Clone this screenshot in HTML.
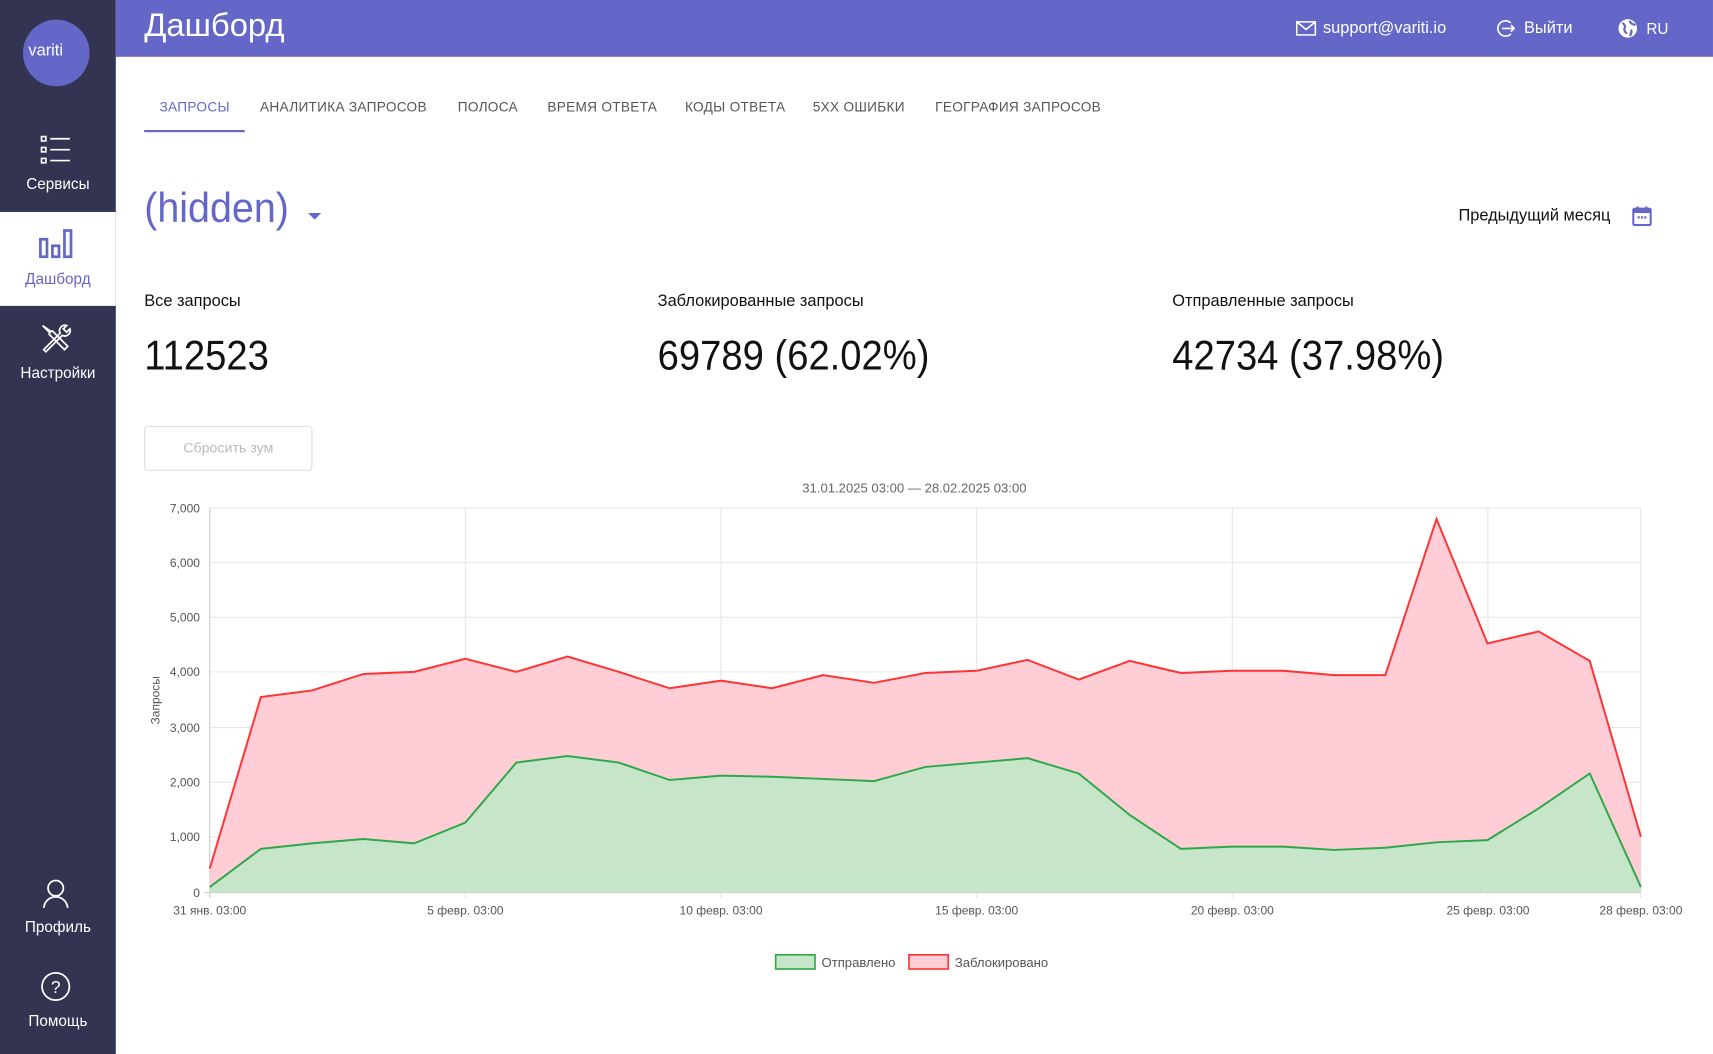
<!DOCTYPE html>
<html><head><meta charset="utf-8"><style>
html,body{margin:0;padding:0;width:1713px;height:1054px;overflow:hidden;background:#fff;}
#w{position:absolute;left:0;top:0;width:1568px;height:965px;transform:scale(1.09247);transform-origin:0 0;font-family:"Liberation Sans","DejaVu Sans",sans-serif;}
.a{position:absolute;white-space:nowrap;}
#side{position:absolute;left:0;top:0;width:106px;height:965px;background:#333352;}
#hdr{position:absolute;left:106px;top:0;width:1462px;height:52px;background:#6567c8;}
.sl{color:#fff;font-size:14px;width:106px;text-align:center;}
.tab{font-size:12.5px;color:#555;letter-spacing:.25px;}
.big{font-size:38px;color:#111;transform:scaleX(0.92);transform-origin:0 0;}
</style></head><body><div id="w">
<div id="side"></div>
<div class="a" style="left:21px;top:18px;width:61px;height:61px;border-radius:50%;background:#6567c8;"></div>
<div class="a" style="left:26px;top:38px;color:#fff;font-size:15px;">variti</div>
<svg class="a" style="left:36px;top:123px" width="30" height="28" viewBox="0 0 30 28" fill="none" stroke="#fff" stroke-width="1.5"><rect x="2" y="2" width="4" height="4"/><rect x="2" y="12" width="4" height="4"/><rect x="2" y="22" width="4" height="4"/><path d="M10 4h18M10 14h18M10 24h18"/></svg>
<div class="a sl" style="left:0;top:160px;">Сервисы</div>
<div class="a" style="left:0;top:194px;width:106px;height:86px;background:#fff;"></div>
<svg class="a" style="left:35px;top:209px" width="32" height="28" viewBox="0 0 32 28" fill="none" stroke="#6567c8" stroke-width="2.5"><rect x="2" y="10" width="6" height="16"/><rect x="13" y="16" width="6" height="10"/><rect x="24" y="2" width="6" height="24"/></svg>
<div class="a sl" style="left:0;top:247px;color:#6567c8;">Дашборд</div>
<svg class="a" style="left:35px;top:294px" width="32" height="32" viewBox="0 0 32 32" fill="none" stroke="#fff" stroke-width="1.6"><path d="M4 4l6 6 3-1 14 14-3 3-14-14 1-3z"/><path d="M26 4a5 5 0 0 0-6 7L5 26l2 2 15-15a5 5 0 0 0 7-6l-3 3-3-3z"/></svg>
<div class="a sl" style="left:0;top:333px;">Настройки</div>
<svg class="a" style="left:38px;top:804px" width="26" height="28" viewBox="0 0 26 28" fill="none" stroke="#fff" stroke-width="1.6"><circle cx="13" cy="9" r="7"/><path d="M2 27c1-7 6-10 11-10s10 3 11 10"/></svg>
<div class="a sl" style="left:0;top:840px;">Профиль</div>
<svg class="a" style="left:37px;top:889px" width="28" height="28" viewBox="0 0 28 28" fill="none" stroke="#fff" stroke-width="1.6"><circle cx="14" cy="14" r="12.5"/><text x="14" y="20" fill="#fff" stroke="none" font-size="16" text-anchor="middle" font-family="Liberation Sans">?</text></svg>
<div class="a sl" style="left:0;top:926px;">Помощь</div>

<div id="hdr"></div>
<div class="a" style="left:132px;top:7px;color:#fff;font-size:30px;">Дашборд</div>
<svg class="a" style="left:1186px;top:19px" width="19" height="14" viewBox="0 0 19 14" fill="none" stroke="#fff" stroke-width="1.4"><rect x="1" y="1" width="17" height="12"/><path d="M1 1l8.5 7L18 1"/></svg>
<div class="a" style="left:1211px;top:17px;color:#fff;font-size:15px;">support@variti.io</div>
<svg class="a" style="left:1369px;top:17px" width="18" height="18" viewBox="0 0 18 18" fill="none" stroke="#fff" stroke-width="1.5"><path d="M14 4A7 7 0 1 0 14 14"/><path d="M6 9h11M14 6l3 3-3 3"/></svg>
<div class="a" style="left:1395px;top:17px;color:#fff;font-size:15px;">Выйти</div>
<svg class="a" style="left:1481px;top:17px" width="18" height="18" viewBox="0 0 18 18"><circle cx="9" cy="9" r="8.5" fill="#fff"/><path d="M4 4c2 1 3 3 2 5s1 3 2 5M11 2c0 3 3 3 5 4M12 10c1 2 0 4-1 6" stroke="#6567c8" stroke-width="2" fill="none"/></svg>
<div class="a" style="left:1507px;top:18px;color:#fff;font-size:14px;">RU</div>

<div class="a tab" style="left:146px;top:91px;color:#6567c8;">ЗАПРОСЫ</div>
<div class="a" style="left:132px;top:119px;width:92px;height:2px;background:#6567c8;"></div>
<div class="a tab" style="left:238px;top:91px;">АНАЛИТИКА ЗАПРОСОВ</div>
<div class="a tab" style="left:419px;top:91px;">ПОЛОСА</div>
<div class="a tab" style="left:501px;top:91px;">ВРЕМЯ ОТВЕТА</div>
<div class="a tab" style="left:627px;top:91px;">КОДЫ ОТВЕТА</div>
<div class="a tab" style="left:744px;top:91px;">5XX ОШИБКИ</div>
<div class="a tab" style="left:856px;top:91px;">ГЕОГРАФИЯ ЗАПРОСОВ</div>

<div class="a" style="left:132px;top:170px;color:#6567c8;font-size:38px;transform:scaleX(0.95);transform-origin:0 0;">(hidden)</div>
<div class="a" style="left:282px;top:195px;width:0;height:0;border-left:6px solid transparent;border-right:6px solid transparent;border-top:6px solid #6567c8;"></div>
<div class="a" style="left:1335px;top:189px;font-size:15px;color:#111;">Предыдущий месяц</div>
<svg class="a" style="left:1494px;top:188px" width="18" height="19" viewBox="0 0 18 19"><rect x="1" y="3" width="16" height="15" rx="1.5" fill="none" stroke="#6567c8" stroke-width="2"/><rect x="1" y="3" width="16" height="4" fill="#6567c8"/><path d="M5 1v4M13 1v4" stroke="#6567c8" stroke-width="2"/><rect x="5" y="10" width="2" height="2" fill="#6567c8"/><rect x="8" y="10" width="2" height="2" fill="#6567c8"/><rect x="11" y="10" width="2" height="2" fill="#6567c8"/></svg>

<div class="a" style="left:132px;top:267px;font-size:15px;color:#111;">Все запросы</div>
<div class="a" style="left:602px;top:267px;font-size:15px;color:#111;">Заблокированные запросы</div>
<div class="a" style="left:1073px;top:267px;font-size:15px;color:#111;">Отправленные запросы</div>
<div class="a big" style="left:132px;top:305px;">112523</div>
<div class="a big" style="left:602px;top:305px;">69789 (62.02%)</div>
<div class="a big" style="left:1073px;top:305px;">42734 (37.98%)</div>

<div class="a" style="left:132px;top:390px;width:152px;height:39px;border:1px solid #ddd;border-radius:3px;"></div>
<div class="a" style="left:132px;top:402px;width:154px;text-align:center;font-size:13px;color:#bbb;">Сбросить зум</div>

<svg class="a" style="left:0;top:0" width="1568" height="965" font-family="Liberation Sans, sans-serif">
<text x="837" y="451" font-size="12" fill="#666" text-anchor="middle">31.01.2025 03:00 — 28.02.2025 03:00</text>
<g stroke="#e6e6e6" stroke-width="1">
<path d="M192 465H1502M192 515H1502M192 565H1502M192 615H1502M192 666H1502M192 716H1502M192 766H1502"/>
<path d="M426 465V822M660 465V822M894 465V822M1128 465V822M1362 465V822M1502 465V822"/>
</g>
<path d="M192 465V822M187 817H1502" stroke="#ccc"/>
<g font-size="11" fill="#555" text-anchor="end">
<text x="183" y="469">7,000</text><text x="183" y="519">6,000</text><text x="183" y="569">5,000</text><text x="183" y="619">4,000</text><text x="183" y="670">3,000</text><text x="183" y="720">2,000</text><text x="183" y="770">1,000</text><text x="183" y="821">0</text>
</g>
<g font-size="11" fill="#555" text-anchor="middle">
<text x="192" y="837">31 янв. 03:00</text><text x="426" y="837">5 февр. 03:00</text><text x="660" y="837">10 февр. 03:00</text><text x="894" y="837">15 февр. 03:00</text><text x="1128" y="837">20 февр. 03:00</text><text x="1362" y="837">25 февр. 03:00</text><text x="1502" y="837">28 февр. 03:00</text>
</g>
<text transform="translate(146 641) rotate(-90)" font-size="11" fill="#555" text-anchor="middle">Запросы</text>
<polygon fill="#ffcdd6" points="192,817 192,795 238.8,638 285.6,632 332.4,617 379.1,615 425.9,603 472.7,615 519.5,601 566.3,615 613.1,630 659.9,623 706.6,630 753.4,618 800.2,625 847,616 893.8,614 940.6,604 987.4,622 1034.1,605 1080.9,616 1127.7,614 1174.5,614 1221.3,618 1268.1,618 1314.9,475 1361.6,589 1408.4,578 1455.2,605 1502,766 1502,817"/>
<polygon fill="#c6e5c9" points="192,817 192,812 238.8,777 285.6,772 332.4,768 379.1,772 425.9,753 472.7,698 519.5,692 566.3,698 613.1,714 659.9,710 706.6,711 753.4,713 800.2,715 847,702 893.8,698 940.6,694 987.4,708 1034.1,746 1080.9,777 1127.7,775 1174.5,775 1221.3,778 1268.1,776 1314.9,771 1361.6,769 1408.4,740 1455.2,708 1502,812 1502,817"/>
<polyline fill="none" stroke="#f33" stroke-width="1.8" points="192,795 238.8,638 285.6,632 332.4,617 379.1,615 425.9,603 472.7,615 519.5,601 566.3,615 613.1,630 659.9,623 706.6,630 753.4,618 800.2,625 847,616 893.8,614 940.6,604 987.4,622 1034.1,605 1080.9,616 1127.7,614 1174.5,614 1221.3,618 1268.1,618 1314.9,475 1361.6,589 1408.4,578 1455.2,605 1502,766"/>
<polyline fill="none" stroke="#2ea84a" stroke-width="1.8" points="192,812 238.8,777 285.6,772 332.4,768 379.1,772 425.9,753 472.7,698 519.5,692 566.3,698 613.1,714 659.9,710 706.6,711 753.4,713 800.2,715 847,702 893.8,698 940.6,694 987.4,708 1034.1,746 1080.9,777 1127.7,775 1174.5,775 1221.3,778 1268.1,776 1314.9,771 1361.6,769 1408.4,740 1455.2,708 1502,812"/>
<rect x="710" y="874" width="36" height="13" fill="#c6e5c9" stroke="#2ea84a" stroke-width="1.5"/>
<text x="752" y="885" font-size="12" fill="#555">Отправлено</text>
<rect x="832" y="874" width="36" height="13" fill="#ffcdd6" stroke="#f33" stroke-width="1.5"/>
<text x="874" y="885" font-size="12" fill="#555">Заблокировано</text>
</svg>
</div></body></html>
